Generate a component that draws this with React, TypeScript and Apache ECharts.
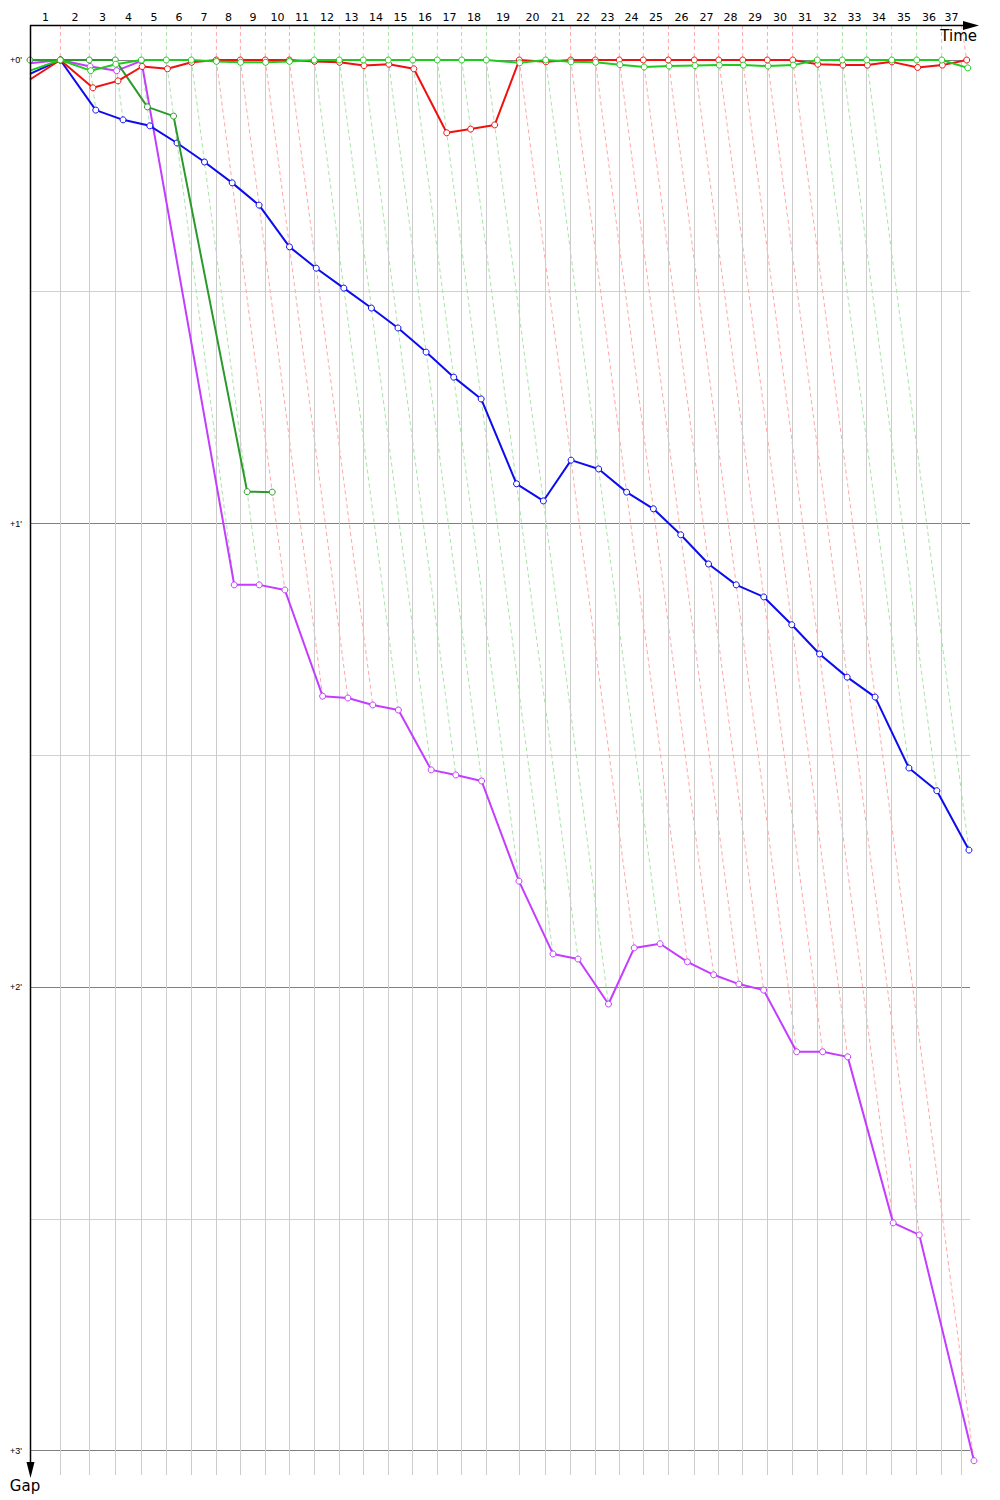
import React, { useEffect, useRef } from "react";
import * as echarts from "echarts";

// ---- data ----
const lapNumbers = [1,2,3,4,5,6,7,8,9,10,11,12,13,14,15,16,17,18,19,20,21,22,23,24,25,26,27,28,29,30,31,32,33,34,35,36,37];
// time (s) at which each lap line is drawn (lap completion of the leader)
const lapLineTimes = [30.3,59.3,85.3,111.3,136.3,161.3,186.3,210.3,235.3,259.3,284.3,309.3,333.3,358.3,382.7,407.3,431.7,456.3,489.3,515.7,540.7,565.3,589.3,613.3,638.3,664.3,688.7,712.7,737.3,762.7,787.3,812.3,836.7,861.7,886.7,911.7,931.7];
// time (s) at which the leader actually crossed the line
const leaderTimes = [30.3,59.3,85.3,111.3,136.3,161.3,186.3,210.3,235.3,259.3,284.3,309.3,333.3,358.3,382.7,407.3,431.7,456.3,489.3,515.7,540.7,565.3,589.3,613.3,638.3,664.3,688.7,712.7,737.3,762.7,787.3,812.3,836.7,861.7,886.7,911.7,936.7];
const lapLeader = ["red","green","green","green","green","green","red","red","red","red","green","green","green","green","green","green","green","green","red","green","red","red","red","red","red","red","red","red","red","red","green","green","green","green","green","green","red"];

// gaps in minutes, index 0 = start, then laps 1..n
const redGaps = [0.042,0,0.060,0.045,0.014,0.019,0.005,0,0,0,0,0.003,0.005,0.012,0.009,0.019,0.157,0.149,0.140,0,0.004,0,0,0,0,0,0,0,0,0,0,0.009,0.011,0.011,0.004,0.016,0.011,0];
const greenGaps = [0.023,0,0.023,0.009,0,0,0,0.003,0.005,0.005,0.003,0,0,0,0,0,0,0,0,0.006,0,0.004,0.005,0.010,0.015,0.013,0.012,0.011,0.011,0.013,0.011,0,0,0,0,0,0,0.017];
const darkGreenGaps = [0,0,0,0,0.101,0.121,0.931,0.932];
const blueGaps = [0.030,0,0.108,0.129,0.142,0.179,0.220,0.265,0.313,0.403,0.449,0.492,0.535,0.578,0.630,0.684,0.731,0.914,0.951,0.863,0.882,0.932,0.968,1.024,1.087,1.132,1.158,1.218,1.281,1.331,1.374,1.527,1.576,1.704];
const purpleGaps = [0.007,0,0.014,0.023,0.002,1.132,1.132,1.143,1.372,1.376,1.391,1.402,1.531,1.542,1.555,1.771,1.928,1.939,2.036,1.915,1.906,1.945,1.973,1.993,2.006,2.139,2.139,2.150,2.508,2.534,3.021];

const gapMajorTicks = [0, 1, 2, 3];
const gapMinorTicks = [0.5, 1.5, 2.5];
const gapTickLabels = ["+0'", "+1'", "+2'", "+3'"];

const SEC_PER_GAP = 60;
const X_GRID_END = 940;
const X_MAX = 960;
const Y_MIN = -0.0755;
const Y_MAX = 3.0518;

const cars = [
  { name: "purple", gaps: purpleGaps, color: "#c43cff", showStart: false },
  { name: "blue", gaps: blueGaps, color: "#0c0cee", showStart: false },
  { name: "darkgreen", gaps: darkGreenGaps, color: "#2a9a2a", showStart: true },
  { name: "red", gaps: redGaps, color: "#f01010", showStart: false },
  { name: "green", gaps: greenGaps, color: "#1ecb1e", showStart: false },
];

function maxGapAtLap(lap: number) {
  let m = 0;
  cars.forEach((c) => {
    if (c.gaps.length > lap && c.gaps[lap] > m) m = c.gaps[lap];
  });
  return m;
}

const crisp = (v: number) => Math.floor(v) + 0.5;

export default function App() {
  const ref = useRef<HTMLDivElement>(null);
  useEffect(() => {
    if (!ref.current) return;
    const chart = echarts.init(ref.current, undefined, { renderer: "svg" });

    const lapSeries: any = {
      type: "custom",
      z: 1,
      silent: true,
      clip: false,
      data: lapNumbers.map((_, i) => [i]),
      renderItem: (params: any, api: any) => {
        const i = api.value(0);
        const cs = params.coordSys;
        const gx = crisp(api.coord([lapLineTimes[i], 0])[0]);
        const zero = api.coord([leaderTimes[i], 0]);
        const top = api.coord([lapLineTimes[i], Y_MIN]);
        const bottom = api.coord([lapLineTimes[i], Y_MAX]);
        const prevX = crisp(api.coord([i === 0 ? 0 : lapLineTimes[i - 1], 0])[0]);
        const g = maxGapAtLap(i + 1);
        const end = api.coord([leaderTimes[i] + g * SEC_PER_GAP, g]);
        const dashColor = lapLeader[i] === "red" ? "#ffa8a8" : "#a8e4a8";
        const children: any[] = [
          { type: "line", shape: { x1: gx, y1: zero[1], x2: gx, y2: bottom[1] }, style: { stroke: "#cccccc", lineWidth: 1 } },
          { type: "line", shape: { x1: gx, y1: top[1], x2: zero[0], y2: zero[1] }, style: { stroke: dashColor, lineWidth: 1, lineDash: [4, 3] } },
          {
            type: "text",
            style: { text: String(lapNumbers[i]), x: (prevX + gx) / 2, y: cs.y - 8, align: "center", verticalAlign: "middle", fontSize: 11, fontFamily: "DejaVu Sans", fill: "#000" },
          },
        ];
        if (g > 0) {
          children.push({ type: "line", shape: { x1: zero[0], y1: zero[1], x2: end[0], y2: end[1] }, style: { stroke: dashColor, lineWidth: 1, lineDash: [4, 3] } });
        }
        return { type: "group", children };
      },
    };

    const hSeries: any = {
      type: "custom",
      z: 0,
      silent: true,
      clip: false,
      data: [...gapMajorTicks.map((g, i) => [g, 1, i]), ...gapMinorTicks.map((g) => [g, 0, -1])],
      renderItem: (params: any, api: any) => {
        const g = api.value(0);
        const major = api.value(1) === 1;
        const li = api.value(2);
        const a = api.coord([0, g]);
        const b = api.coord([X_GRID_END, g]);
        const y = crisp(a[1]);
        const children: any[] = [
          { type: "line", shape: { x1: a[0], y1: y, x2: b[0], y2: y }, style: { stroke: major ? "#808080" : "#d0d0d0", lineWidth: 1 } },
        ];
        if (major && li >= 0) {
          children.push({
            type: "text",
            style: { text: gapTickLabels[li], x: a[0] - 8, y: a[1], align: "right", verticalAlign: "middle", fontSize: 9, fontFamily: "Liberation Sans", fill: "#000" },
          });
        }
        return { type: "group", children };
      },
    };

    const carSeries = cars.map((c, ci) => ({
      type: "line",
      name: c.name,
      z: 3 + ci,
      silent: true,
      clip: false,
      symbol: "circle",
      symbolSize: 6,
      showSymbol: true,
      showAllSymbol: true,
      lineStyle: { color: c.color, width: 2 },
      itemStyle: { color: "#ffffff", borderColor: c.color, borderWidth: 1 },
      emphasis: { disabled: true },
      data: c.gaps.map((g, i) => {
        const t = i === 0 ? 0 : leaderTimes[i - 1] + g * SEC_PER_GAP;
        if (i === 0 && !c.showStart) return { value: [t, g], symbol: "none" };
        return [t, g];
      }),
    }));

    chart.setOption({
      animation: false,
      backgroundColor: "#ffffff",
      grid: { left: 30, top: 25, width: X_MAX, height: 1450, containLabel: false },
      xAxis: { type: "value", min: 0, max: X_MAX, show: false },
      yAxis: { type: "value", min: Y_MIN, max: Y_MAX, inverse: true, show: false },
      series: [hSeries, lapSeries, ...carSeries],
      graphic: [
        { type: "line", z: 100, shape: { x1: 30, y1: 25.5, x2: 968, y2: 25.5 }, style: { stroke: "#000", lineWidth: 1.5 } },
        { type: "polygon", z: 100, shape: { points: [[963, 21], [979, 25.5], [963, 30]] }, style: { fill: "#000" } },
        { type: "line", z: 100, shape: { x1: 30.5, y1: 25, x2: 30.5, y2: 1466 }, style: { stroke: "#000", lineWidth: 1.5 } },
        { type: "polygon", z: 100, shape: { points: [[26.5, 1462], [30.5, 1478], [34.5, 1462]] }, style: { fill: "#000" } },
        { type: "text", z: 100, style: { text: "Time", x: 977, y: 36, align: "right", verticalAlign: "middle", fontSize: 15, fontFamily: "DejaVu Sans", fill: "#000" } },
        { type: "text", z: 100, style: { text: "Gap", x: 25, y: 1486, align: "center", verticalAlign: "middle", fontSize: 15, fontFamily: "DejaVu Sans", fill: "#000" } },
      ],
    });
    return () => chart.dispose();
  }, []);
  return <div ref={ref} style={{ position: "absolute", left: 0, top: 0, width: 1000, height: 1500 }} />;
}
